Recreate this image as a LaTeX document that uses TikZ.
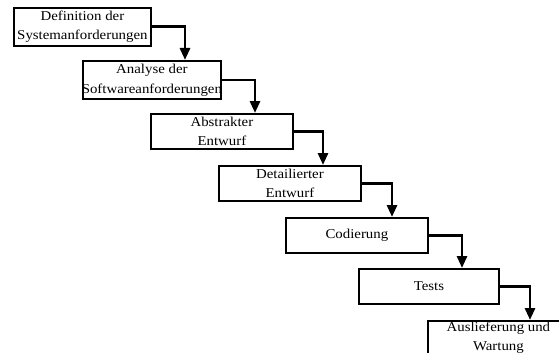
\documentclass[tikz,border=0pt]{standalone}
\usepackage{fontspec}
\setmainfont{Liberation Serif}[FakeStretch=1.1]
\usetikzlibrary{arrows.meta}
\begin{document}
\begin{tikzpicture}[x=1pt,y=-1pt,
  box/.style={draw, line width=1.8pt, inner sep=0pt, anchor=north west, minimum height=35pt, minimum width=142pt},
  lbl/.style={align=center, inner sep=0pt, font=\fontsize{13.5}{19}\selectfont},
  arr/.style={line width=2.8pt, -{Triangle[width=10pt,length=12pt]}}]
\useasboundingbox (0,0) rectangle (559,353);
\clip (0,0) rectangle (559,353);
% boxes
\node[box, minimum width=137pt, minimum height=38pt] (b1) at (13,7) {};
\node[box, minimum width=138pt, minimum height=38pt] (b2) at (82,60) {};
\node[box] (b3) at (150,113) {};
\node[box] (b4) at (218,165) {};
\node[box] (b5) at (285,217) {};
\node[box, minimum width=140pt] (b6) at (358,268) {};
\node[box, minimum width=141pt, minimum height=40pt] (b7) at (427,320) {};
% labels
\node[lbl] (t1) at (b1.center) {Definition der\\Systemanforderungen};
\node[lbl, font=\fontsize{13.5}{20}\selectfont] (t2) at (b2.center) {Analyse der\\Softwareanforderungen};
\node[lbl] (t3) at (b3.center) {Abstrakter\\Entwurf};
\node[lbl] (t4) at (b4.center) {Detailierter\\Entwurf};
\node[lbl] (t5) at (b5.center) {Codierung};
\node[lbl] (t6) at (b6.center) {Tests};
\node[lbl, font=\fontsize{13.5}{19.5}\selectfont, anchor=north] (t7) at ([yshift=-1.6pt]b7.north) {Auslieferung und\\Wartung};
% arrows
\draw[arr] (b1.east) -| ([xshift=103pt]b2.north west);
\draw[arr] (b2.east) -| ([xshift=105pt]b3.north west);
\draw[arr] (b3.east) -| ([xshift=105pt]b4.north west);
\draw[arr] (b4.east) -| ([xshift=107pt]b5.north west);
\draw[arr] (b5.east) -| ([xshift=104pt]b6.north west);
\draw[arr] (b6.east) -| ([xshift=103pt]b7.north west);
\end{tikzpicture}
\end{document}
